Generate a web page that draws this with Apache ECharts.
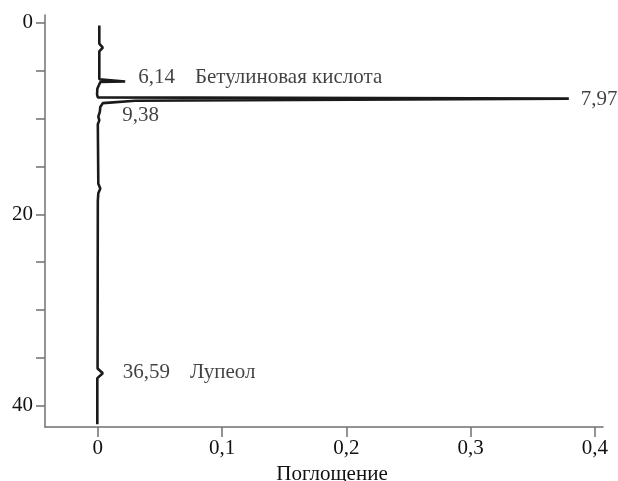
<!DOCTYPE html>
<html>
<head>
<meta charset="utf-8">
<script src="https://cdn.jsdelivr.net/npm/echarts@6/dist/echarts.min.js"></script>
<style>
  html, body { margin: 0; padding: 0; background: #fff; }
  #main { width: 618px; height: 481px; }
</style>
</head>
<body>
<div id="main"></div>
<script>
// хроматограмма: время удерживания (мин) по вертикали, поглощение по горизонтали
var traceTime = [0.3, 2.2, 2.6, 3.0, 5.9, 6.1, 6.14, 6.2, 6.4, 6.9, 7.5, 7.8, 7.93, 8.0, 8.15, 8.4, 8.8, 9.3, 9.5, 9.8, 10.2, 10.6, 16.8, 17.3, 17.8, 18.6, 36.1, 36.59, 37.1, 41.9];
var traceAbs  = [0.0012, 0.0012, 0.004, 0.0012, 0.0012, 0.002, 0.022, 0.002, 0.0008, -0.0004, -0.0006, 0.0, 0.379, 0.379, 0.03, 0.004, 0.002, 0.0016, 0.003, 0.0004, 0.0012, 0.0, 0.0004, 0.002, 0.0004, 0.0, -0.0002, 0.004, -0.0004, -0.0004];

var peakTimes  = [6.14, 7.97, 9.38, 36.59];
var peakAbs    = [0.022, 0.379, 0.002, 0.0];
var peakLabels = ['6,14', '7,97', '9,38', '36,59'];
var peakNames  = ['Бетулиновая кислота', '', '', 'Лупеол'];
var peakOffsets = [[13, -4], [12, 0], [22, 3], [25, -1]];

var xTicks = [0, 0.1, 0.2, 0.3, 0.4];
var yTicks = [0, 5, 10, 15, 20, 25, 30, 35, 40];
var yLabels = [0, 20, 40];

var font = "'Liberation Serif', serif";
var fs = 21;
var txt = '#111';
var axisColor = '#707070';
var myChart = echarts.init(document.getElementById('main'));

var traceData = traceTime.map(function (t, i) { return [traceAbs[i], t]; });
var labelData = peakTimes.map(function (t, i) {
  return {
    value: [peakAbs[i], t],
    label: {
      offset: peakOffsets[i],
      formatter: peakNames[i] ? '{num|' + peakLabels[i] + '}{name|' + peakNames[i] + '}' : '{num|' + peakLabels[i] + '}'
    }
  };
});

var option = {
  animation: false,
  textStyle: { fontFamily: font },
  grid: { left: 45, right: 15, top: 15, bottom: 54, containLabel: false, outerBoundsMode: 'none' },
  xAxis: {
    type: 'value',
    position: 'bottom',
    min: -0.0425,
    max: 0.4065,
    name: 'Поглощение',
    nameLocation: 'middle',
    nameGap: 32,
    nameTextStyle: { fontFamily: font, fontSize: fs, color: txt, padding: [0, 0, 0, 16] },
    splitLine: { show: false },
    axisLine: { onZero: false, lineStyle: { color: axisColor, width: 1.5 } },
    axisTick: { customValues: xTicks, length: 10, lineStyle: { color: axisColor, width: 1.5 } },
    axisLabel: {
      customValues: xTicks,
      margin: 11,
      fontFamily: font, fontSize: fs, color: txt,
      formatter: function (v) { return String(v).replace('.', ','); }
    }
  },
  yAxis: {
    type: 'value',
    position: 'left',
    inverse: true,
    min: -0.8,
    max: 42.2,
    splitLine: { show: false },
    axisLine: { onZero: false, lineStyle: { color: axisColor, width: 1.5 } },
    axisTick: { customValues: yTicks, length: 9, lineStyle: { color: axisColor, width: 1.5 } },
    axisLabel: { customValues: yLabels, margin: 12, fontFamily: font, fontSize: fs, color: txt }
  },
  series: [
    {
      type: 'line',
      data: traceData,
      showSymbol: false,
      symbol: 'none',
      lineStyle: { color: '#1a1a1a', width: 2.6 },
      z: 3
    },
    {
      type: 'scatter',
      data: labelData,
      symbolSize: 0,
      silent: true,
      label: {
        show: true,
        position: 'right',
        distance: 0,
        rich: {
          num: { fontFamily: font, fontSize: fs, color: txt },
          name: { fontFamily: font, fontSize: fs, color: txt, padding: [0, 0, 0, 20] }
        }
      }
    }
  ]
};

myChart.setOption(option);
window.onresize = function () {
  myChart.resize();
};
</script>
</body>
</html>
